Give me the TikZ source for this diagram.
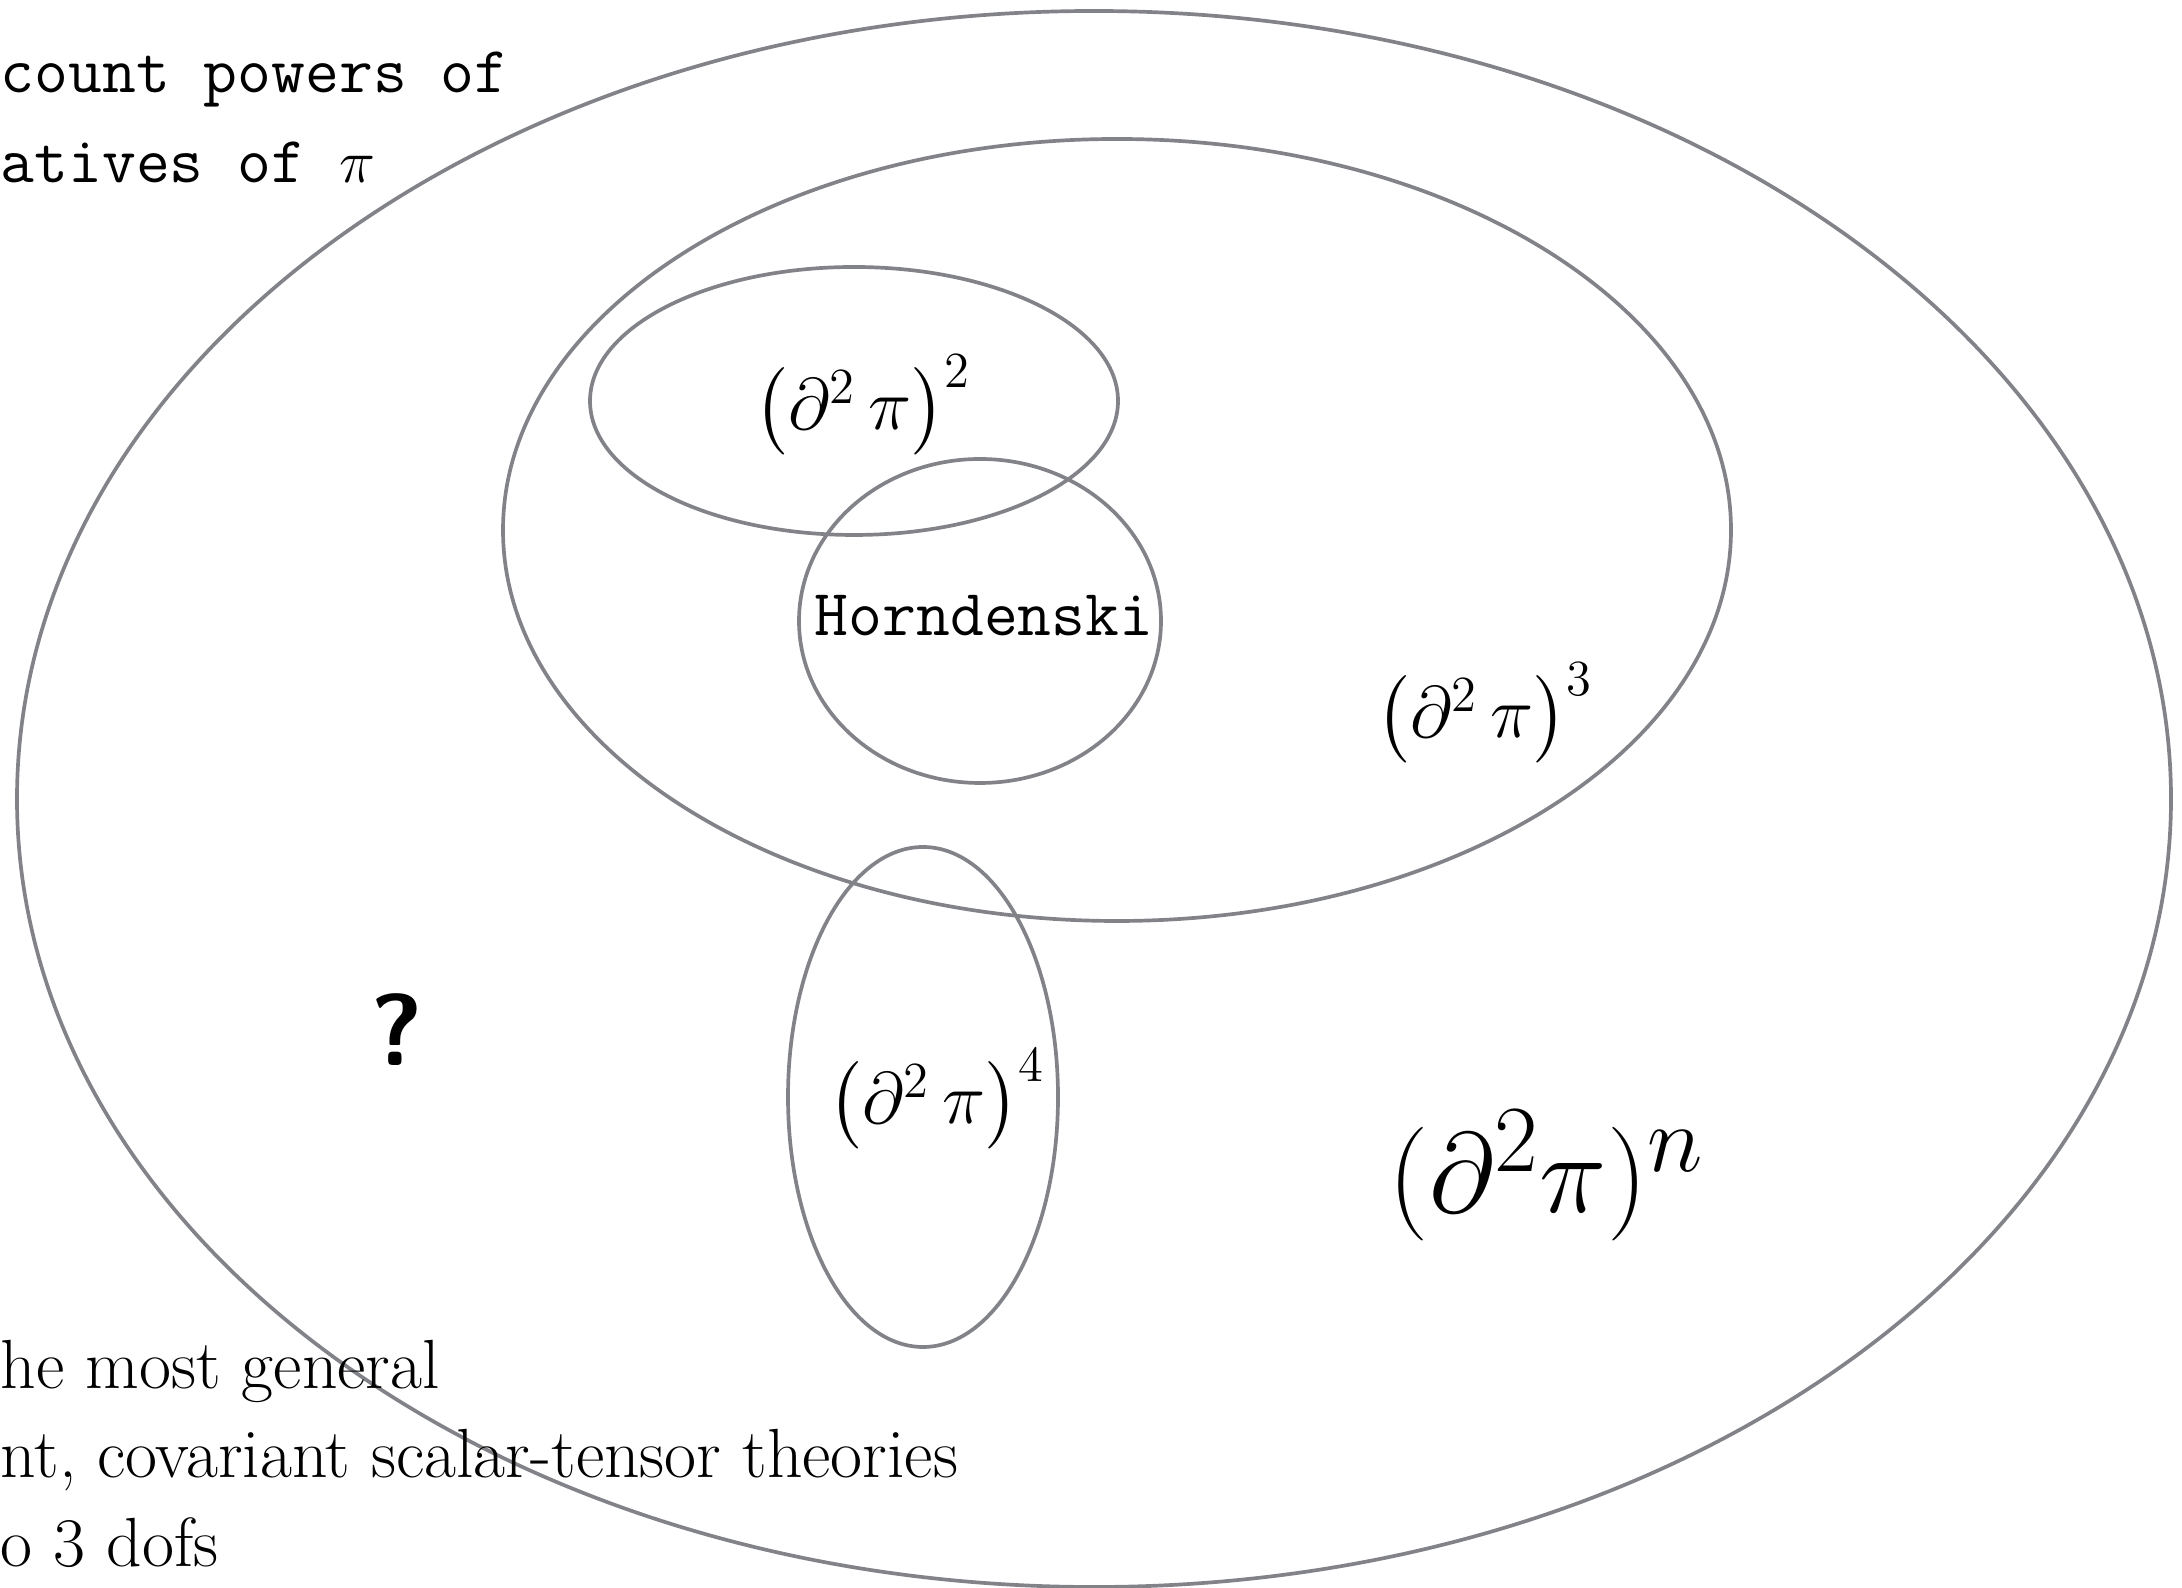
\documentclass[tikz,border=0pt]{standalone}
\usepackage{amsmath}
\definecolor{setgray}{RGB}{130,131,137}
\tikzset{
  set/.style={draw=setgray, line width=1.05pt},
  ttlabel/.style={inner sep=0pt, font=\fontsize{18.7}{25}\selectfont\ttfamily},
  rmlabel/.style={inner sep=0pt, font=\fontsize{19.8}{25}\selectfont},
  power/.style={inner sep=0pt, font=\fontsize{19.2}{24}\selectfont}
}
\begin{document}
\begin{tikzpicture}[line join=round, line cap=round]
  \useasboundingbox (0,0) rectangle (21.82,15.88);
  % the sets, outer one first
  \foreach \cx/\cy/\rx/\ry in {10.94/7.89/10.77/7.88, 11.17/10.58/6.14/3.91,
      8.54/11.87/2.64/1.34, 9.80/9.67/1.81/1.62, 9.23/4.91/1.35/2.50}{
    \draw[set] (\cx,\cy) ellipse ({\rx} and {\ry});
  }
  % labels inside the sets
  \foreach \n/\p/\k in {qtwo/{8.63,11.83}/2, qthree/{14.85,8.75}/3, qfour/{9.37,4.89}/4}{
    \node[power] (\n) at (\p) {$\bigl(\partial^2\,\pi\bigr)^{\k}$};
  }
  \node[ttlabel] (horn) at (9.84,9.72) {Horndenski};
  \node[inner sep=0pt, scale=1.3, transform shape, font=\fontsize{24.88}{30}\selectfont] (qn) at (15.47,4.12) {$(\partial^2\pi)^n$};
  \node[inner sep=0pt, font=\fontsize{29}{34}\selectfont\sffamily\bfseries] (qmark) at (3.97,5.58) {?};
  % side notes
  \node[ttlabel, anchor=base west] (top1) at (0,14.95) {count powers of};
  \node[ttlabel, anchor=base west] (top2) at (0,14.05) {atives of $\pi$};
  \node[rmlabel, anchor=base west] (bot1) at (0,1.99) {he most general};
  \node[rmlabel, anchor=base west] (bot2) at (0,1.10) {nt, covariant scalar-tensor theories};
  \node[rmlabel, anchor=base west] (bot3) at (0,0.21) {o 3 dofs};
\end{tikzpicture}
\end{document}
